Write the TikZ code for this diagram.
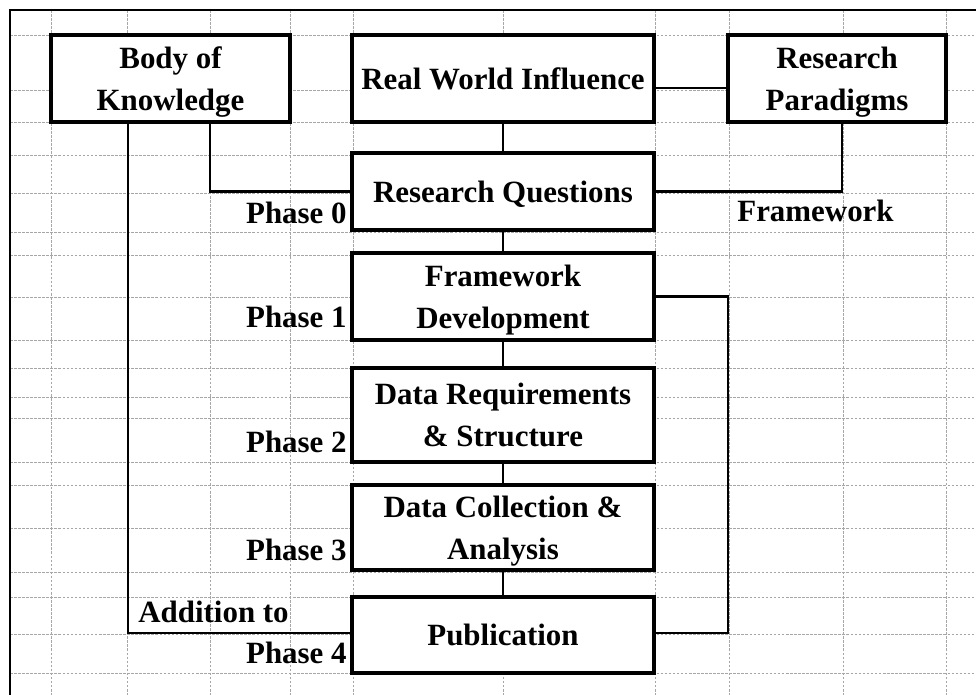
\documentclass[tikz,border=0pt]{standalone}
\usepackage{fontspec}
\setmainfont{Liberation Serif}
\usepackage{tikz}
\usetikzlibrary{calc}

\begin{document}
\begin{tikzpicture} [x=0.02cm, y=-0.02cm,
		every node/.style={font=\fontsize{17.6}{24}\selectfont\bfseries},
		box/.style={draw, line width=1.9pt, fill=white, align=center, inner sep=0pt, text depth=0pt},
		link/.style={line width=1.5pt},
		cell/.style={gray!70, line width=0.4pt, dash pattern=on 1.5pt off 0.8pt}]
		\useasboundingbox (0,0) rectangle (976,695);
		%----------------------------------------------------
		% Spreadsheet grid behind the chart
		%----------------------------------------------------
		\foreach \gx in {51,127,210,290,353,503,655,729,843,946}
			\draw [cell] (\gx,10) -- (\gx,695);
		\foreach \gy in {35,90,122,155,193,232,255,297,340,368,397,418,462,485,528,572,597,634,673}
			\draw [cell] (10,\gy) -- (976,\gy);
		\draw [line width=1pt] (10,695) -- (10,10) -- (976,10);
		
		%----------------------------------------------------
		% Top row
		%----------------------------------------------------
		\node [box, minimum width=4.78cm, minimum height=1.74cm] (bok) at (170.5,78.5) {Body of\\Knowledge};
		\node [box, minimum width=6.04cm, minimum height=1.74cm] (rwi) at (503,78.5) {Real World Influence};
		\node [box, minimum width=4.36cm, minimum height=1.74cm] (rp) at (837,78.5) {Research\\Paradigms};
		
		%----------------------------------------------------
		% Phases, one under the other
		%----------------------------------------------------
		\node [box, minimum width=6.04cm, minimum height=1.54cm] (rq) at (503,191.5) {Research Questions};
		\node [box, minimum width=6.04cm, minimum height=1.74cm] (fd) at (503,296.5) {Framework\\Development};
		\node [box, minimum width=6.04cm, minimum height=1.88cm] (drs) at (503,415) {Data Requirements\\\& Structure};
		\node [box, minimum width=6.04cm, minimum height=1.70cm] (dca) at (503,527.5) {Data Collection \&\\Analysis};
		\node [box, minimum width=6.04cm, minimum height=1.52cm] (pub) at (503,635) {Publication};
		
		\node [anchor=base east, inner sep=0pt] (p0) at (347,224) {Phase 0};
		\node [anchor=base east, inner sep=0pt] (p1) at (347,328) {Phase 1};
		\node [anchor=base east, inner sep=0pt] (p2) at (347,452) {Phase 2};
		\node [anchor=base east, inner sep=0pt] (p3) at (347,560) {Phase 3};
		\node [anchor=base east, inner sep=0pt] (p4) at (347,663) {Phase 4};
		\node [anchor=base west, inner sep=0pt] (add) at (138,622) {Addition to};
		\node [anchor=base west, inner sep=0pt] (fw) at (737,222) {Framework};
		
		%----------------------------------------------------
		% Connectors
		%----------------------------------------------------
		\draw [link] (rwi) -- (rq);
		\draw [link] (rq) -- (fd);
		\draw [link] (fd) -- (drs);
		\draw [link] (drs) -- (dca);
		\draw [link] (dca) -- (pub);
		\draw [link] ([yshift=-0.19cm]rwi.east) -- ([yshift=-0.19cm]rp.west);
		\draw [link] ([xshift=0.1cm]rp.south) |- (rq.east);
		\draw [link] (bok.south -| 210,0) |- (rq.west);
		
		\coordinate (addto) at (128,633);
		\draw [link] (bok.south -| addto) -- (addto) -- (addto -| pub.west);
		\coordinate (back) at (728,633);
		\draw [link] (fd.east) -| (back) -- (back -| pub.east);
	\end{tikzpicture}
\end{document}
